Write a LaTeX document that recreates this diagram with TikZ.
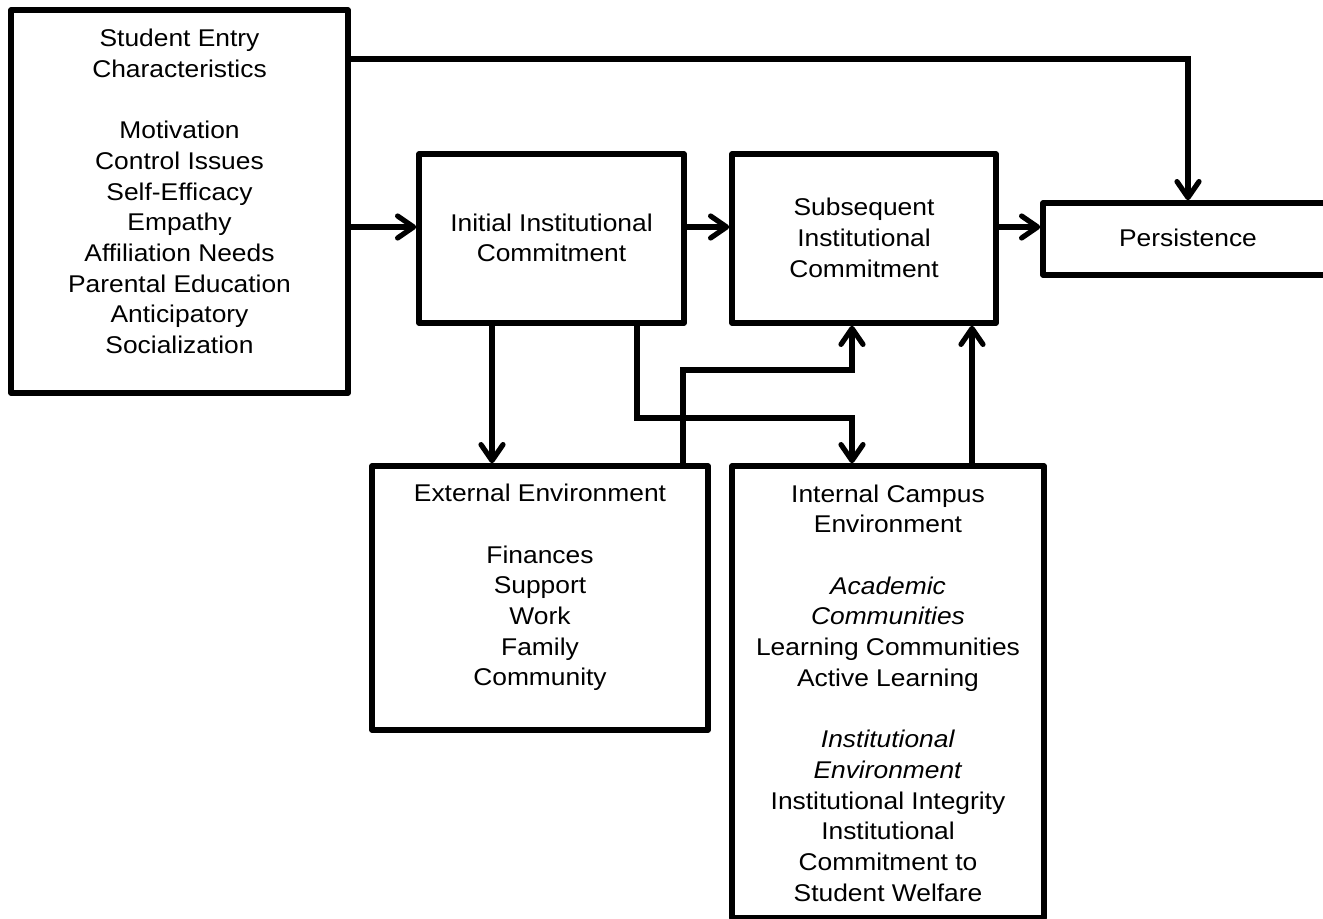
\documentclass[tikz,border=0pt]{standalone}
\usepackage{fontspec}
\setmainfont{Liberation Sans}[FakeStretch=1.09]
\usetikzlibrary{arrows.meta}
\tikzset{
  box/.style={draw, line width=2.8pt, inner sep=0pt, line join=round},
  txt/.style={align=center, inner sep=0pt, font=\fontsize{12.1pt}{15.35pt}\selectfont},
  arr/.style={line width=2.6pt, line join=miter, -{Straight Barb[length=8pt,width=11pt,line width=2.6pt,round]}},
}
\begin{document}
\begin{tikzpicture}[x=0.5pt,y=-0.5pt]
\useasboundingbox (0,0) rectangle (1323,919);
% boxes
\node[box, minimum width=168.5pt, minimum height=191.5pt] (se) at (179.5,201.5) {};
\node[box, minimum width=132.5pt, minimum height=84.5pt] (ii) at (551.5,238.5) {};
\node[box, minimum width=132pt, minimum height=84.5pt] (sc) at (864,238.5) {};
\node[box, minimum width=145pt, minimum height=36pt] (pe) at (1188,239) {};
\node[box, minimum width=168pt, minimum height=132pt] (ee) at (540,598) {};
\node[box, minimum width=156pt, minimum height=226pt] (ic) at (888,692) {};
% texts
\node[txt] (set) at (179.5,191.5) {Student Entry\\Characteristics\\[15.35pt]Motivation\\Control Issues\\Self-Efficacy\\Empathy\\Affiliation Needs\\Parental Education\\Anticipatory\\Socialization};
\node[txt] (iit) at (551.5,238) {Initial Institutional\\Commitment};
\node[txt] (sct) at (864,238) {Subsequent\\Institutional\\Commitment};
\node[txt] (pet) at (1188,238) {Persistence};
\node[txt] (eet) at (540,587.5) {External Environment\\[15.35pt]Finances\\Support\\Work\\Family\\Community};
\node[txt] (ict) at (888,693) {Internal Campus\\Environment\\[15.35pt]\textit{Academic}\\\textit{Communities}\\Learning Communities\\Active Learning\\[15.35pt]\textit{Institutional}\\\textit{Environment}\\Institutional Integrity\\Institutional\\Commitment to\\Student Welfare};
% connectors
\draw[arr] (se.east |- 0,59) -| (pe.north);
\draw[arr] (se.east |- 0,227) -- (ii.west |- 0,227);
\draw[arr] (ii.east |- 0,227) -- (sc.west |- 0,227);
\draw[arr] (sc.east |- 0,227) -- (pe.west |- 0,227);
\draw[arr] (ii.south -| 492,0) -- (ee.north -| 492,0);
\draw[arr] (ii.south -| 637,0) |- (852,418) -- (ic.north -| 852,0);
\draw[arr] (ee.north -| 683,0) |- (852,370) -- (sc.south -| 852,0);
\draw[arr] (ic.north -| 972,0) -- (sc.south -| 972,0);
\end{tikzpicture}
\end{document}
